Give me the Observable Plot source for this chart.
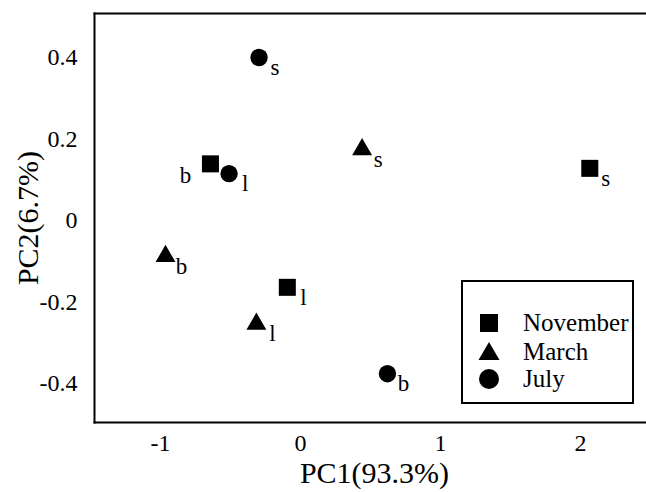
<!DOCTYPE html>
<html>
<head>
<meta charset="utf-8">
<script src="https://cdn.jsdelivr.net/npm/d3@7"></script>
<script src="https://cdn.jsdelivr.net/npm/@observablehq/plot@0.6"></script>
<style>
  body { margin: 0; background: #fff; }
  #chart { position: relative; width: 646px; height: 492px; }
  #chart svg text { font-family: "Liberation Serif", "Times New Roman", serif; }
  #legend { position: absolute; left: 0; top: 0; pointer-events: none; }
</style>
</head>
<body>
<div id="chart"></div>
<script>
// ---- data ----
const months = ["November", "March", "July"];
const monthSymbols = ["square", "triangle", "circle"];
const sites = ["b", "l", "s"];
const novemberPC1 = [-0.643, -0.094, 2.066];
const novemberPC2 = [0.139, -0.164, 0.128];
const marchPC1 = [-0.964, -0.315, 0.44];
const marchPC2 = [-0.088, -0.254, 0.174];
const julyPC1 = [0.621, -0.51, -0.296];
const julyPC2 = [-0.376, 0.115, 0.40];
const xTicks = [-1, 0, 1, 2];
const yTicks = [-0.4, -0.2, 0, 0.2, 0.4];
const xTitle = "PC1(93.3%)";
const yTitle = "PC2(6.7%)";

const seriesX = [novemberPC1, marchPC1, julyPC1];
const seriesY = [novemberPC2, marchPC2, julyPC2];
const points = [];
months.forEach((m, i) => {
  sites.forEach((s, j) => {
    points.push({month: m, site: s, pc1: seriesX[i][j], pc2: seriesY[i][j]});
  });
});

const font = "Liberation Serif, Times New Roman, serif";
const dotR = {November: 9.6, March: 7.4, July: 8.7};
const leftLabel = d => d.month === "November" && d.site === "b";

const chart = Plot.plot({
  width: 646,
  height: 492,
  marginLeft: 94,
  marginRight: 0,
  marginTop: 13,
  marginBottom: 70,
  style: {fontFamily: font, background: "#fff", color: "#000"},
  x: {domain: [-1.471, 2.471]},
  y: {domain: [-0.4957, 0.508]},
  marks: [
    Plot.frame({anchor: "left", strokeWidth: 2}),
    Plot.frame({anchor: "top", strokeWidth: 2}),
    Plot.frame({anchor: "bottom", strokeWidth: 2}),
    Plot.axisX({ticks: xTicks, tickSize: 0, tickPadding: 11, fontSize: 24, fontFamily: font, label: null, tickFormat: d => String(d)}),
    Plot.axisY({ticks: yTicks, tickSize: 0, tickPadding: 17, fontSize: 24, fontFamily: font, label: null, tickFormat: d => String(d)}),
    ...months.map((m, i) => Plot.dot(points.filter(d => d.month === m), {
      x: "pc1", y: "pc2", symbol: monthSymbols[i], r: dotR[m], fill: "#000", stroke: "none"
    })),
    Plot.text(points.filter(d => !leftLabel(d)), {x: "pc1", y: "pc2", text: "site", dx: 16, dy: 10, fontSize: 23, fontFamily: font}),
    Plot.text(points.filter(leftLabel), {x: "pc1", y: "pc2", text: "site", dx: -25, dy: 12, fontSize: 23, fontFamily: font}),
    Plot.text([xTitle], {frameAnchor: "bottom", textAnchor: "middle", lineAnchor: "middle", dx: 4, dy: 51, fontSize: 30, fontFamily: font}),
    Plot.text([yTitle], {frameAnchor: "left", textAnchor: "middle", lineAnchor: "middle", dx: -66, rotate: -90, fontSize: 30, fontFamily: font})
  ]
});
document.getElementById("chart").appendChild(chart);

// ---- legend ----
const lg = d3.select("#chart").append("svg")
  .attr("id", "legend").attr("width", 646).attr("height", 492);
lg.append("rect").attr("x", 462).attr("y", 281).attr("width", 171).attr("height", 122)
  .attr("fill", "#fff").attr("stroke", "#000").attr("stroke-width", 2);
const legSym = {square: d3.symbolSquare, triangle: d3.symbolTriangle, circle: d3.symbolCircle};
const legSize = {square: 18 * 18, triangle: 0.433 * 21 * 21, circle: Math.PI * 10 * 10};
const legY = [323, 352, 379];
months.forEach((m, i) => {
  const s = monthSymbols[i];
  lg.append("path")
    .attr("d", d3.symbol(legSym[s], legSize[s])())
    .attr("transform", `translate(489,${legY[i] + (s === "triangle" ? 2 : 0)})`)
    .attr("fill", "#000");
  lg.append("text").attr("x", 523).attr("y", legY[i]).attr("dy", "0.32em")
    .attr("font-family", font).attr("font-size", 25).attr("fill", "#000").text(m);
});
</script>
</body>
</html>
